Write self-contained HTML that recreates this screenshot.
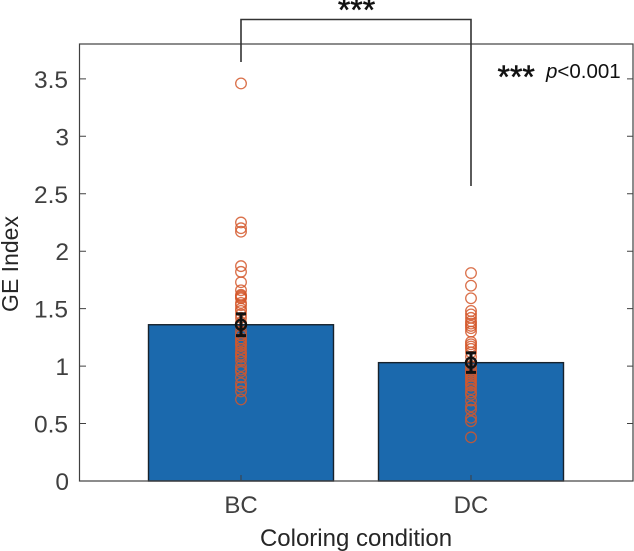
<!DOCTYPE html>
<html>
<head>
<meta charset="utf-8">
<style>
html,body{margin:0;padding:0;background:#fff;}
svg{display:block;font-family:"Liberation Sans",Arial,sans-serif;}
</style>
</head>
<body>
<svg id="chart" width="634" height="551" viewBox="0 0 634 551" xmlns="http://www.w3.org/2000/svg"></svg>
<script>
const categories = ['BC', 'DC'];
const barValues = [1.36, 1.03];
const errorValues = [0.095, 0.085];
const bcPoints = [3.46, 2.25, 2.2, 2.17, 1.87, 1.82, 1.73, 1.66, 1.62, 1.61, 1.6, 1.59, 1.55, 1.53, 1.5, 1.48, 1.45, 1.42, 1.38, 1.35, 1.3, 1.27, 1.24, 1.22, 1.2, 1.18, 1.15, 1.12, 1.1, 1.08, 1.05, 1.0, 0.97, 0.95, 0.9, 0.85, 0.82, 0.78, 0.71];
const dcPoints = [1.81, 1.7, 1.59, 1.48, 1.45, 1.42, 1.39, 1.37, 1.35, 1.33, 1.3, 1.21, 1.19, 1.17, 1.15, 1.12, 1.08, 1.03, 1.0, 0.97, 0.95, 0.93, 0.91, 0.89, 0.87, 0.85, 0.83, 0.8, 0.77, 0.75, 0.7, 0.65, 0.62, 0.55, 0.52, 0.38];
const yTicks = [0, 0.5, 1, 1.5, 2, 2.5, 3, 3.5];
const yTickLabels = ['0', '0.5', '1', '1.5', '2', '2.5', '3', '3.5'];

const NS = 'http://www.w3.org/2000/svg';
const svg = document.getElementById('chart');
const yPos = v => 481 - v * 114.9;
const xPos = i => 241 + i * 230;
const barWidthUnits = 185;
const axisColor = '#404040';

function make(tag, attrs, text) {
  const el = document.createElementNS(NS, tag);
  for (const k in attrs) el.setAttribute(k, attrs[k]);
  if (text !== undefined) el.textContent = text;
  svg.appendChild(el);
  return el;
}

categories.forEach((c, i) => {
  const bar = make('rect', {x: xPos(i) - barWidthUnits / 2, y: yPos(barValues[i]), width: barWidthUnits, height: yPos(0) - yPos(barValues[i]), fill: '#1b69ad', stroke: '#17222c', 'stroke-width': 1.4});
  
  
});

const pointSets = [bcPoints, dcPoints];
pointSets.forEach((pts, i) => {
  pts.forEach(v => {
    const pt = make('circle', {cx: xPos(i), cy: yPos(v), r: 5.3, fill: 'none', stroke: '#d4572a', 'stroke-width': 1.3, 'stroke-opacity': 0.85});
    
    
  });
});

categories.forEach((c, i) => {
  const x = xPos(i), hi = yPos(barValues[i] + errorValues[i]), lo = yPos(barValues[i] - errorValues[i]);
  const eb = make('path', {d: `M${x} ${hi}V${lo}M${x - 5} ${hi}H${x + 5}M${x - 5} ${lo}H${x + 5}`, fill: 'none', stroke: '#111', 'stroke-width': 3});
  
  
  const m = make('circle', {cx: x, cy: yPos(barValues[i]), r: 5, fill: 'none', stroke: '#111', 'stroke-width': 2.4});
  
  
});

const frame = make('rect', {x: 79.5, y: 44, width: 553.5, height: 437, fill: 'none', stroke: axisColor, 'stroke-width': 1.2});



yTicks.forEach((t, i) => {
  const y = yPos(t);
  if (t > 0) {
    const tl = make('path', {d: `M79.5 ${y}H86M633 ${y}H627`, stroke: axisColor, 'stroke-width': 1});
    
    
  }
  const lab = make('text', {x: Number.isInteger(t) ? 69 : 68, y: y + 9, 'text-anchor': 'end', 'font-size': 24.5, fill: axisColor}, yTickLabels[i]);
  
  
});

categories.forEach((c, i) => {
  const tk = make('path', {d: `M${xPos(i)} 481V475`, stroke: axisColor, 'stroke-width': 1});
  
  
  const lab = make('text', {x: xPos(i), y: 513, 'text-anchor': 'middle', 'font-size': 24, fill: axisColor}, c);
  
  
});

const xt = make('text', {x: 356, y: 546, 'text-anchor': 'middle', 'font-size': 24, fill: '#262626'}, 'Coloring condition');



const yt = make('text', {x: 0, y: 0, transform: 'translate(18,264) rotate(-90)', 'text-anchor': 'middle', 'font-size': 23, fill: '#262626'}, 'GE Index');



const br = make('path', {d: 'M241 62V19.5H471V186', fill: 'none', stroke: '#333', 'stroke-width': 1.6});



const st = make('text', {x: 356.5, y: 21, 'text-anchor': 'middle', 'font-size': 32, stroke: '#111', 'stroke-width': 0.5, fill: '#111'}, '***');



const ls = make('text', {x: 497.5, y: 88, 'font-size': 32, stroke: '#111', 'stroke-width': 0.5, fill: '#111'}, '***');



const lp = make('text', {x: 546, y: 78, 'font-size': 20.5, fill: '#111'});


const ps = document.createElementNS(NS, 'tspan');
ps.setAttribute('font-style', 'italic');
ps.textContent = 'p';
lp.appendChild(ps);
lp.appendChild(document.createTextNode('<0.001'));
</script>
</body>
</html>
